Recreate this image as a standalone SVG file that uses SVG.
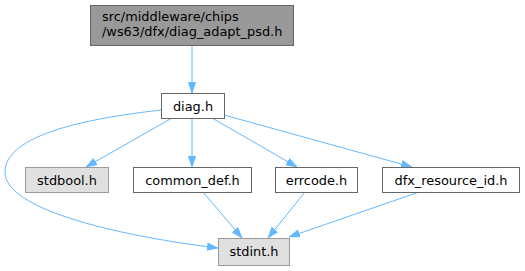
<svg xmlns="http://www.w3.org/2000/svg" width="525" height="271" viewBox="0 0 525 271">
<defs>
<marker id="ah" viewBox="0 0 11 8" refX="11" refY="4" markerWidth="11" markerHeight="8" markerUnits="userSpaceOnUse" orient="auto">
<path d="M0.5,0.5 L10.5,4 L0.5,7.5 Z" fill="#63b8ff" stroke="#63b8ff"/>
</marker>
<style>
.n rect{fill:#fff;stroke:#666;stroke-width:1}
.n.g rect{fill:#e0e0e0;stroke:#999}
.n.m rect{fill:#999;stroke:#666}
.n text{font-family:"DejaVu Sans",sans-serif;font-size:12.9px;fill:#000;text-anchor:middle}
.n.m text{text-anchor:start}
.e path{fill:none;stroke:#63b8ff;stroke-width:1;marker-end:url(#ah)}
</style>
</defs>
<rect width="525" height="271" fill="#fff"/>
<g class="e" id="edges">
<path d="M192,45 L192,93"/>
<path d="M172,118 L86,167"/>
<path d="M192,118 L192,167"/>
<path d="M212,118 L297,167"/>
<path d="M224,115 L412,167"/>
<path d="M161,110 C110,116 5,130 5,172 C5,215 150,240 218,248"/>
<path d="M203,192 L242,238"/>
<path d="M305,192 L268,238"/>
<path d="M419,192 L289,237"/>
</g>
<g class="n m" id="node1"><rect x="90.5" y="5.5" width="203" height="40"/><text x="102" y="21">src/middleware/chips</text><text x="102" y="36">/ws63/dfx/diag_adapt_psd.h</text></g>
<g class="n" id="node2"><rect x="161.5" y="93.5" width="63" height="25"/><text x="193" y="110.5">diag.h</text></g>
<g class="n g" id="node3"><rect x="25.5" y="167.5" width="83" height="25"/><text x="67" y="184.5">stdbool.h</text></g>
<g class="n" id="node4"><rect x="133.5" y="167.5" width="118" height="25"/><text x="192.5" y="184.5">common_def.h</text></g>
<g class="n" id="node5"><rect x="275.5" y="167.5" width="82" height="25"/><text x="316.5" y="184.5">errcode.h</text></g>
<g class="n" id="node6"><rect x="382.5" y="167.5" width="137" height="25"/><text x="451" y="184.5">dfx_resource_id.h</text></g>
<g class="n g" id="node7"><rect x="218.5" y="238.5" width="71" height="27"/><text x="254" y="256">stdint.h</text></g>
</svg>
